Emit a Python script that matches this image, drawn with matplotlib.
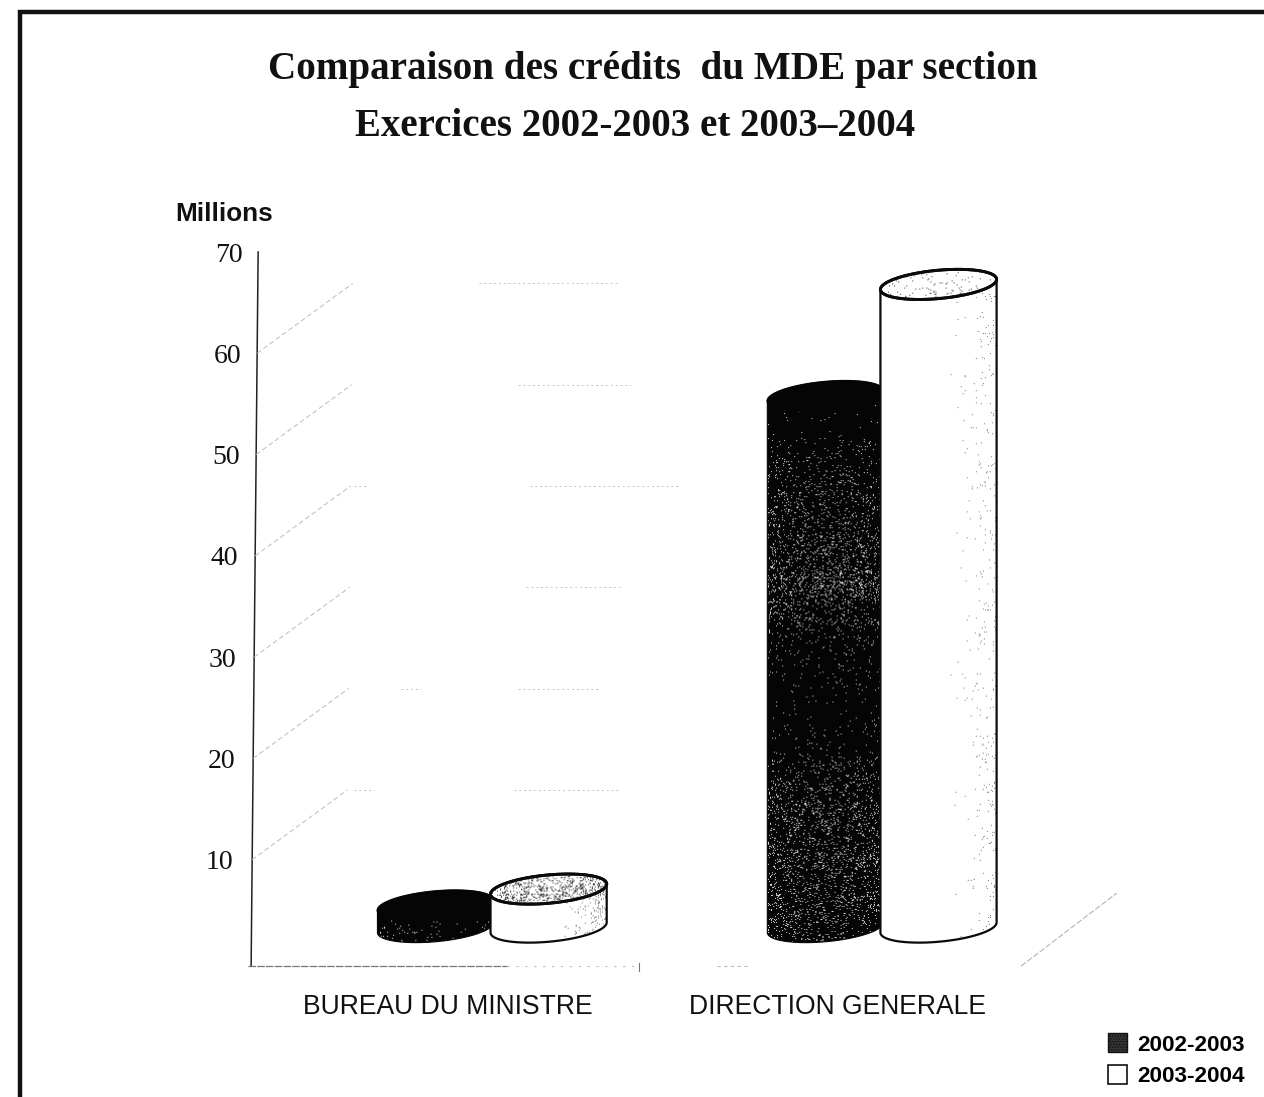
import numpy as np
import matplotlib
matplotlib.use("Agg")
import matplotlib.pyplot as plt
from matplotlib.patches import Patch, Polygon
from matplotlib.lines import Line2D
from matplotlib.transforms import ScaledTranslation

W, H = 1264, 1097
categories = ["BUREAU DU MINISTRE", "DIRECTION GENERALE"]
series_names = ["2002-2003", "2003-2004"]
values_2002 = [2.2, 52.5]
values_2003 = [3.8, 63.5]
yticks = [10, 20, 30, 40, 50, 60, 70]

plt.rcParams["hatch.linewidth"] = 0.7
fig = plt.figure(figsize=(W / 100, H / 100), dpi=100, facecolor="white")


def axbox(l, t, r, b):
    return [l / W, 1 - b / H, (r - l) / W, (b - t) / H]


ax = fig.add_axes(axbox(248, 252, 1020, 961))
ax.set_facecolor("none")
ax.set_ylim(0, 70)
ax.set_xlim(-0.513, 1.467)
for s in ax.spines.values():
    s.set_visible(False)

# category ticks / value ticks
ax.set_xticks(range(len(categories)), categories, fontfamily="Liberation Sans",
              fontsize=19.1, color="#111111")
ax.tick_params(axis="x", length=0, pad=24)
ax.set_yticks(yticks, [str(v) for v in yticks], fontfamily="Liberation Serif",
              fontsize=20, color="#111111")
ax.tick_params(axis="y", length=0, pad=7)
for v, lab in zip(yticks, ax.get_yticklabels()):
    lab.set_transform(lab.get_transform() + ScaledTranslation(
        (v - 40) * 0.16 / 100, 0, fig.dpi_scale_trans))

# slightly leaning value axis and floor
FLOOR = -0.5
ax.plot([-0.505, -0.487], [FLOOR, 70], color="#222222", lw=1.1, clip_on=False)
ax.plot([-0.513, 0.15], [FLOOR, FLOOR], color="#777777", lw=0.9, ls=(0, (6, 1)), clip_on=False)
ax.plot([0.15, 0.49], [FLOOR, FLOOR], color="#bbbbbb", lw=0.8, ls=(0, (2, 6)), clip_on=False)
ax.plot([0.49, 0.49], [FLOOR - 0.5, FLOOR + 0.3], color="#777777", lw=0.8, clip_on=False)
ax.plot([0.69, 0.77], [FLOOR, FLOOR], color="#bbbbbb", lw=0.8, ls=(0, (3, 3)), clip_on=False)
ax.plot([1.47, 1.715], [FLOOR, 6.7], color="#aaaaaa", lw=0.7, ls=(0, (6, 2)), clip_on=False)

# depth lines and faint, partly lost back wall
wall_dx, wall_dy = 0.245, 6.9
wall_parts = {10: [(-0.24, -0.19), (0.17, 0.44)],
              20: [(-0.12, -0.07), (0.18, 0.39)],
              30: [(0.2, 0.44)],
              40: [(-0.24, -0.21), (0.21, 0.59)],
              50: [(0.18, 0.47)],
              60: [(0.08, 0.44)]}
for v in yticks[:-1]:
    x0 = -0.505 + 0.018 * v / 70
    ax.plot([x0, x0 + wall_dx], [v, v + wall_dy], color="#bbbbbb", lw=0.7,
            ls=(0, (5, 3)), clip_on=False)
    for a, b in wall_parts[v]:
        ax.plot([a, b], [v + wall_dy] * 2, color="#c4c4c4", lw=0.7,
                ls=(0, (2, 3)), clip_on=False)

# cylinders
BASE = 3.3
A = 0.149
B = 1.4
K = 0.5
SHIFT = 0.113
OFF = 0.145
speck_small = [0.0, 0.0, 0.0, 0.02, 0.07, 0.02]
speck_tall = [0.0, 0.01, 0.09, 0.13, 0.24, 0.05, 0.02, 0.02, 0.12, 0.16, 0.16, 0.1]
speck_side = [0.0, 0.0, 0.0, 0.0, 0.015, 0.05]


def scan_specks(extent, clip, vert, horiz, color, zorder, cell=1.0):
    """Scanner grain as a deterministic texture (purely decorative, carries no data)."""
    x0, x1, y0, y1 = extent
    p0 = ax.transData.transform((x0, y0))
    p1 = ax.transData.transform((x1, y1))
    nx = max(int(abs(p1[0] - p0[0]) / cell), 2)
    ny = max(int(abs(p1[1] - p0[1]) / cell), 2)
    vy = np.interp(np.linspace(0, 1, ny), np.linspace(0, 1, len(vert)), vert)
    hx = np.interp(np.linspace(0, 1, nx), np.linspace(0, 1, len(horiz)), horiz)
    jj, ii = np.meshgrid(np.arange(nx), np.arange(ny))
    noise = np.sin(ii * 12.9898 + jj * 78.233 + x0 * 311.7) * 43758.5453
    noise = noise - np.floor(noise)
    patch = 0.65 + 0.35 * np.sin(ii / 7.3 + np.sin(jj / 6.1) * 2.0) * np.cos(jj / 5.7)
    on = noise < np.outer(vy, hx) * patch
    rgba = np.zeros((ny, nx, 4))
    rgba[..., :3] = matplotlib.colors.to_rgb(color)
    rgba[..., 3] = on * 1.0
    im = ax.imshow(rgba, aspect="auto", interpolation="bilinear", extent=extent, zorder=zorder)
    im.set_clip_path(Polygon(clip, transform=ax.transData))


def arc(cx, y, t):
    return cx + A * np.cos(t), y + B * np.sin(t) + K * np.cos(t)


def cylinder(cx, h, body, edge, top, lw, z, vert, horiz, grain, top_grain=None):
    y = BASE + h
    x1, y1 = arc(cx, BASE, np.linspace(np.pi, 2 * np.pi, 60))
    x2, y2 = arc(cx, y, np.linspace(0, np.pi, 60))
    bx, by = np.r_[x1, x2], np.r_[y1, y2]
    ax.fill(bx, by, facecolor=body, edgecolor="none", zorder=z)
    extent = (cx - A, cx + A, BASE - B - K, y + B + K)
    scan_specks(extent, np.c_[bx, by], vert, horiz, grain, z + 0.1)
    ax.fill(bx, by, facecolor="none", edgecolor=edge, lw=lw, zorder=z + 0.2)
    tx, ty = arc(cx, y, np.linspace(0, 2 * np.pi, 120))
    ax.fill(tx, ty, facecolor=top, edgecolor=edge, lw=lw + 0.5, zorder=z + 0.3)
    if top_grain:
        scan_specks((cx - A, cx + A, y - B - K, y + B + K), np.c_[tx, ty], [top_grain], [1.0],
                    "#404040", z + 0.4)
        ax.fill(tx, ty, facecolor="none", edgecolor=edge, lw=lw + 0.5, zorder=z + 0.5)


for i in range(len(categories)):
    cx = i + SHIFT
    cylinder(cx - OFF, values_2002[i], "#050505", "#050505", "#050505", 0.8, 3,
             speck_small if i == 0 else speck_tall, [1.0], "#d8d8d8")
    cylinder(cx + OFF, values_2003[i], "white", "#0a0a0a", "white", 1.6, 4,
             [1.0], [s * (6.0 if i == 0 else 1.0) for s in speck_side], "#777777",
             top_grain=0.35 if i == 0 else 0.04)
ax.set_xlim(-0.513, 1.467)
ax.set_ylim(0, 70)

# legend
handles = [Patch(facecolor="#333333", edgecolor="#111111", hatch="......", label=series_names[0]),
           Patch(facecolor="white", edgecolor="#111111", lw=1.2, label=series_names[1])]
fig.legend(handles=handles, loc="lower right", bbox_to_anchor=(0.990, 0.0033), frameon=False,
           prop={"family": "Liberation Sans", "weight": "bold", "size": 16.2},
           handlelength=0.85, handleheight=0.9, handletextpad=0.45, labelspacing=0.42,
           borderaxespad=0.0, borderpad=0.28)

# titles and unit label
fig.text(653 / W, 1 - 69 / H, "Comparaison des crédits  du MDE par section", ha="center",
         va="center", family="Liberation Serif", weight="bold", fontsize=28.2, color="#111111")
fig.text(635 / W, 1 - 126 / H, "Exercices 2002-2003 et 2003–2004", ha="center", va="center",
         family="Liberation Serif", weight="bold", fontsize=28, color="#111111")
fig.text(224 / W, 1 - 214 / H, "Millions", ha="center", va="center",
         family="Liberation Sans", weight="bold", fontsize=18.8, color="#111111")

# scanned frame
fig.add_artist(Line2D([20 / W, 20 / W, 1], [0, 1 - 12 / H, 1 - 12 / H], color="#111111",
                      lw=3.2, solid_joinstyle="miter"))

fig.savefig("out.png", dpi=100, facecolor="white")
